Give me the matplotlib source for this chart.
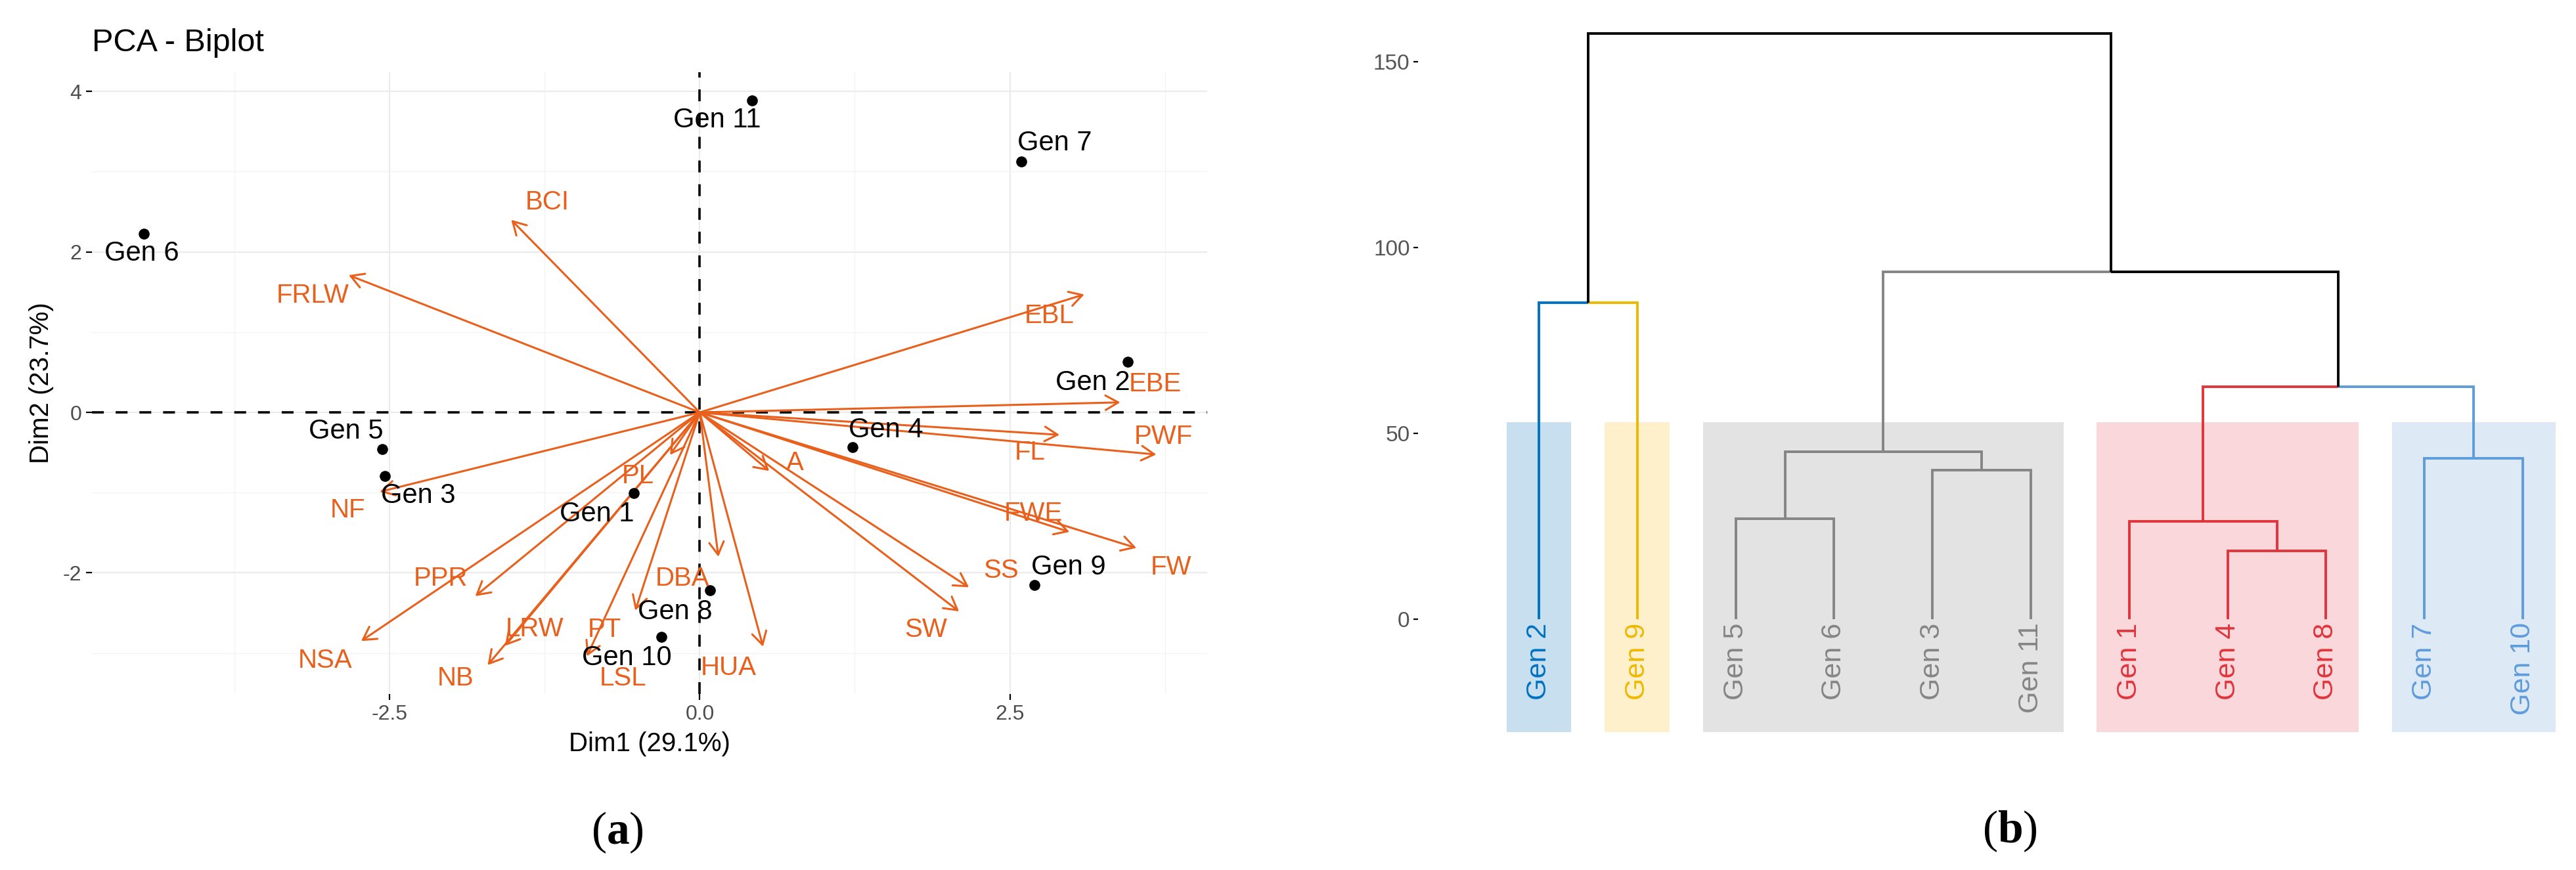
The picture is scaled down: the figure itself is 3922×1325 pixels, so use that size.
import numpy as np
import matplotlib
matplotlib.use('Agg')
import matplotlib.pyplot as plt
from matplotlib.patches import FancyArrowPatch, Rectangle

plt.rcParams['font.family'] = ['Liberation Sans', 'DejaVu Sans']
plt.rcParams['axes.unicode_minus'] = False
plt.rcParams['mathtext.fontset'] = 'custom'
plt.rcParams['mathtext.rm'] = 'Liberation Serif'
plt.rcParams['mathtext.bf'] = 'Liberation Serif:bold'

# ---- PCA biplot data ----
gen_names = ['Gen 1', 'Gen 2', 'Gen 3', 'Gen 4', 'Gen 5', 'Gen 6',
             'Gen 7', 'Gen 8', 'Gen 9', 'Gen 10', 'Gen 11']
gen_x = [-0.53, 3.45, -2.54, 1.23, -2.56, -4.48, 2.59, 0.085, 2.70, -0.31, 0.42]
gen_y = [-1.01, 0.63, -0.79, -0.43, -0.456, 2.23, 3.13, -2.22, -2.15, -2.80, 3.89]
gen_lab_x = [-0.83, 3.17, -2.27, 1.50, -2.85, -4.50, 2.86, -0.20, 2.97, -0.59, 0.14]
gen_lab_y = [-1.27, 0.37, -1.035, -0.22, -0.235, 1.98, 3.36, -2.49, -1.93, -3.06, 3.64]

var_names = ['BCI', 'FRLW', 'EBL', 'EBE', 'FL', 'PWF', 'NF', 'PL', 'A', 'FWE', 'FW',
             'SS', 'SW', 'DBA', 'HUA', 'PPR', 'NSA', 'NB', 'LRW', 'PT', 'LSL']
var_x = [-1.52, -2.83, 3.10, 3.39, 2.90, 3.68, -2.58, -0.24, 0.56, 2.98, 3.52,
         2.17, 2.09, 0.15, 0.51, -1.81, -2.73, -1.71, -1.57, -0.52, -0.91]
var_y = [2.40, 1.71, 1.47, 0.125, -0.28, -0.525, -0.99, -0.53, -0.73, -1.49, -1.69,
         -2.18, -2.48, -1.80, -2.92, -2.29, -2.85, -3.15, -2.91, -2.47, -3.04]
var_lab_x = [-1.23, -3.12, 2.82, 3.67, 2.66, 3.74, -2.84, -0.50, 0.77, 2.69, 3.80,
             2.43, 1.82, -0.14, 0.23, -2.09, -3.02, -1.97, -1.33, -0.77, -0.62]
var_lab_y = [2.62, 1.46, 1.20, 0.356, -0.50, -0.30, -1.22, -0.79, -0.63, -1.26, -1.93,
             -1.97, -2.71, -2.07, -3.18, -2.07, -3.09, -3.31, -2.70, -2.71, -3.31]

# ---- dendrogram data ----
leaf_labels = ['Gen 2', 'Gen 9', 'Gen 5', 'Gen 6', 'Gen 3', 'Gen 11',
               'Gen 1', 'Gen 4', 'Gen 8', 'Gen 7', 'Gen 10']
leaf_cluster = [0, 1, 2, 2, 2, 2, 3, 3, 3, 4, 4]
# merges: (child a, child b, height); leaves are 0..10, new nodes 11..
merges = [(2, 3, 27.0), (7, 8, 18.4), (4, 5, 40.1), (6, 12, 26.3), (9, 10, 43.3),
          (11, 13, 45.1), (14, 15, 62.5), (0, 1, 85.2), (16, 17, 93.4), (18, 19, 157.6)]
cluster_line = ['#0073C2', '#EFB800', '#858585', '#E0353D', '#5E9CDB']
cluster_fill = ['#C8DFF0', '#FFF0CC', '#E3E3E3', '#FAD7DA', '#DEE9F6']
rect_top = 53.0
rect_bottom = -30.4

orange = '#E8601C'

fig = plt.figure(figsize=(39.22, 13.25), dpi=100)

# ================= (a) PCA biplot =================
ax = fig.add_axes([0.0357, 0.2023, 0.4329, 0.7147])
ax.set_xlim(-4.9, 4.09)
ax.set_ylim(-3.51, 4.24)
for s in ax.spines.values():
    s.set_visible(False)
ax.set_xticks([-2.5, 0, 2.5])
ax.set_xticklabels(['-2.5', '0.0', '2.5'])
ax.set_yticks([-2, 0, 2, 4])
ax.set_yticklabels(['-2', '0', '2', '4'])
ax.set_xticks([-3.75, -1.25, 1.25, 3.75], minor=True)
ax.set_yticks([-3, -1, 1, 3], minor=True)
ax.tick_params(which='major', length=6.5, width=1.6, color='black',
               labelsize=23, labelcolor='#4D4D4D', pad=5)
ax.tick_params(which='minor', length=0)
ax.grid(which='major', color='#EBEBEB', lw=1.6)
ax.grid(which='minor', color='#F2F2F2', lw=0.9)
ax.set_axisbelow(True)
ax.axhline(0, color='black', lw=2.6, ls=(0, (5, 5)), zorder=1)
ax.axvline(0, color='black', lw=2.6, ls=(0, (5, 5)), zorder=1)

for i in range(len(var_names)):
    arr = FancyArrowPatch((0, 0), (var_x[i], var_y[i]),
                          arrowstyle='->,head_length=0.7,head_width=0.4',
                          mutation_scale=20, lw=2.2, color=orange,
                          shrinkA=0, shrinkB=0, zorder=3)
    ax.add_patch(arr)
    ax.text(var_lab_x[i], var_lab_y[i], var_names[i], color=orange, fontsize=29,
            ha='center', va='center', zorder=4)

ax.scatter(gen_x, gen_y, s=120, color='black', zorder=5)
for i in range(len(gen_names)):
    ax.text(gen_lab_x[i], gen_lab_y[i], gen_names[i], color='black', fontsize=30,
            ha='center', va='center', zorder=6)

ax.set_xlabel('Dim1 (29.1%)', fontsize=29, color='black', labelpad=8)
ax.set_ylabel('Dim2 (23.7%)', fontsize=29, color='black', labelpad=10)
fig.text(140 / 3922, 1 - 65 / 1325, 'PCA - Biplot', fontsize=35, ha='left', va='center')

# ================= (b) dendrogram =================
ax2 = fig.add_axes([0.5505, 0.152, 0.4495, 0.8238])
ax2.set_xlim(-0.228, 11.54)
ax2.set_ylim(-32, 161)
for s in ax2.spines.values():
    s.set_visible(False)
ax2.set_xticks([])
ax2.set_yticks([0, 50, 100, 150])
ax2.tick_params(axis='y', length=5, width=1.6, color='black',
                labelsize=24, labelcolor='#555555', pad=4)

n = len(leaf_labels)
node_x = {i: i + 1.0 for i in range(n)}
node_h = {i: 0.0 for i in range(n)}
node_leaves = {i: [i] for i in range(n)}


def node_color(k):
    cl = set(leaf_cluster[j] for j in node_leaves[k])
    if len(cl) == 1:
        return cluster_line[cl.pop()]
    return 'black'


# cluster rectangles
for c in range(len(cluster_line)):
    members = [i + 1 for i in range(n) if leaf_cluster[i] == c]
    x0 = min(members) - 0.33
    x1 = max(members) + 0.33
    ax2.add_patch(Rectangle((x0, rect_bottom), x1 - x0, rect_top - rect_bottom,
                            facecolor=cluster_fill[c], edgecolor='none', zorder=0))

for k, (a, b, h) in enumerate(merges):
    new = n + k
    node_x[new] = (node_x[a] + node_x[b]) / 2
    node_h[new] = h
    node_leaves[new] = node_leaves[a] + node_leaves[b]
    for child in (a, b):
        col = node_color(child)
        ax2.plot([node_x[child], node_x[child], node_x[new]],
                 [node_h[child], h, h], color=col, lw=2.8,
                 solid_capstyle='butt', solid_joinstyle='miter', zorder=2)

for i in range(n):
    ax2.text(i + 1, -1.0, leaf_labels[i], rotation=90, ha='center', va='top',
             fontsize=31, color=cluster_line[leaf_cluster[i]], zorder=3)

# panel captions
fig.text(940 / 3922, 1 - 1268 / 1325, r'($\mathbf{a}$)', fontsize=50,
         ha='center', va='center', family='Liberation Serif')
fig.text(3060 / 3922, 1 - 1266 / 1325, r'($\mathbf{b}$)', fontsize=50,
         ha='center', va='center', family='Liberation Serif')

fig.savefig('out.png', dpi=100)
